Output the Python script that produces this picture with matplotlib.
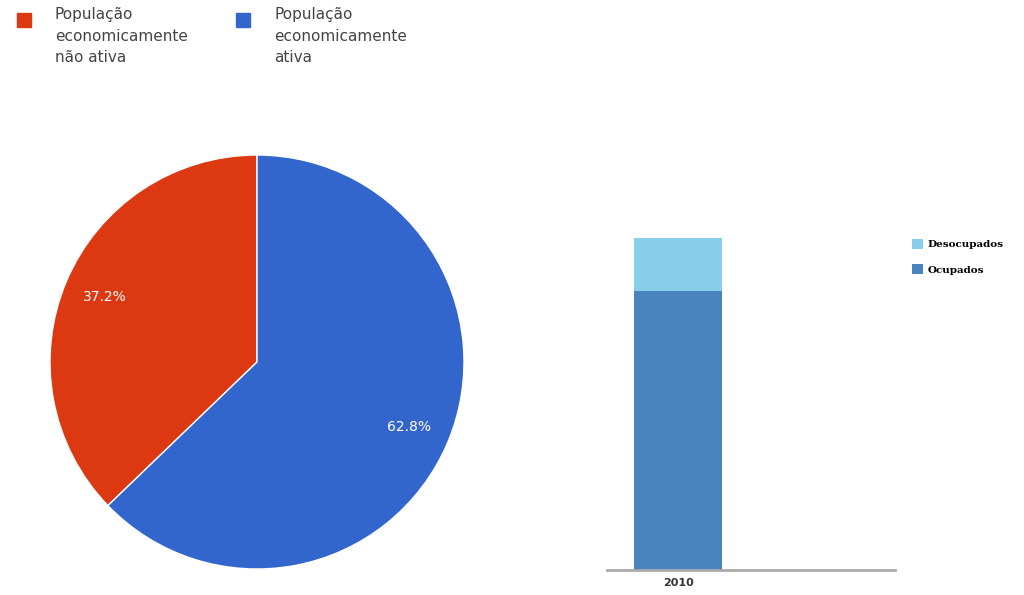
import matplotlib
matplotlib.use("Agg")
import matplotlib.pyplot as plt
from matplotlib.patches import Rectangle

# pie data
pie_labels = ["População\neconomicamente\nnão ativa", "População\neconomicamente\nativa"]
pie_values = [37.2, 62.8]
pie_colors = ["#dc3912", "#3366cc"]

# stacked bar data
years = ["2010"]
ocupados = [84.0]
desocupados = [16.0]
bar_colors = ["#4a84bf", "#87ceeb"]

W, H = 1024, 595
fig = plt.figure(figsize=(W / 100, H / 100), dpi=100)
fig.patch.set_facecolor("white")

# pie
ax1 = fig.add_axes([50 / W, (H - 569) / H, 414 / W, 414 / H])
wedges, texts, autotexts = ax1.pie(
    pie_values, colors=pie_colors, startangle=90, counterclock=True,
    autopct="%.1f%%", pctdistance=0.8,
    wedgeprops=dict(edgecolor="white", linewidth=1),
    textprops=dict(color="white", fontsize=10))
ax1.set_xlim(-1, 1)
ax1.set_ylim(-1, 1)
ax1.set_aspect("equal")

# pie legend on top
lx = [17, 236]
for i, lab in enumerate(pie_labels):
    fig.patches.append(Rectangle((lx[i] / W, (H - 27) / H), 14 / W, 14 / H,
                                 transform=fig.transFigure, color=pie_colors[i]))
    fig.text((lx[i] + 38) / W, (H - 7) / H, lab, fontsize=11, color="#444444",
             va="top", ha="left", linespacing=1.55)

# stacked bar
ax2 = fig.add_axes([607 / W, (H - 570) / H, 288 / W, 430 / H])
x = range(len(years))
ax2.bar(x, ocupados, width=1.0, color=bar_colors[0], label="Ocupados")
ax2.bar(x, desocupados, width=1.0, bottom=ocupados, color=bar_colors[1],
        label="Desocupados")
ax2.set_xlim(-0.807, 2.466)
ax2.set_ylim(0, 100 * 430 / 332)
ax2.set_xticks(list(x))
ax2.set_xticklabels(years, fontsize=8, fontweight="bold", color="#333333")
ax2.tick_params(axis="x", length=0, pad=6)
ax2.set_yticks([])
for s in ["top", "right", "left"]:
    ax2.spines[s].set_visible(False)
ax2.spines["bottom"].set_color("#aaaaaa")
ax2.spines["bottom"].set_linewidth(2)

handles, labels = ax2.get_legend_handles_labels()
ax2.legend(handles[::-1], labels[::-1], loc="upper left",
           bbox_to_anchor=(1.06, 0.77), frameon=False, borderpad=0,
           borderaxespad=0, handlelength=1.0, handleheight=1.1,
           handletextpad=0.5, labelspacing=1.4,
           prop=dict(family="DejaVu Serif", size=7.5, weight="bold"))

fig.savefig("out.png", dpi=100, facecolor="white")
